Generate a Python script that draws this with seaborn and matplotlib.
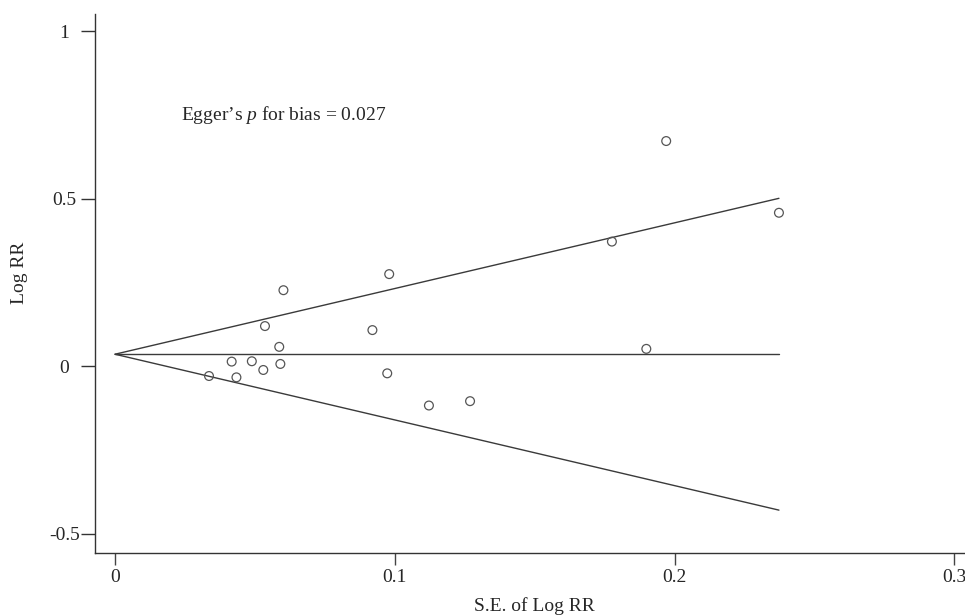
import matplotlib
matplotlib.use("Agg")
import matplotlib.pyplot as plt
import seaborn as sns
import numpy as np
import pandas as pd

# Study-level data
se_log_rr = [0.0336, 0.0417, 0.0434, 0.0489, 0.0530, 0.0536, 0.0587, 0.0591, 0.0602,
             0.0920, 0.0973, 0.0980, 0.1122, 0.1269, 0.1776, 0.1899, 0.1970, 0.2373]
log_rr = [-0.029, 0.014, -0.033, 0.015, -0.011, 0.120, 0.058, 0.007, 0.227,
          0.108, -0.021, 0.275, -0.117, -0.104, 0.372, 0.052, 0.672, 0.458]
pooled_log_rr = 0.036
z_crit = 1.96

x_ticks = [0, 0.1, 0.2, 0.3]
x_tick_labels = ["0", "0.1", "0.2", "0.3"]
y_ticks = [1, 0.5, 0, -0.5]
y_tick_labels = ["1", "0.5", "0", "-0.5"]
annotation = "Egger\u2019s $p$ for bias = 0.027"

df = pd.DataFrame({"se": se_log_rr, "logrr": log_rr})

sns.set_theme(style="white")
plt.rcParams["font.family"] = ["Liberation Serif", "DejaVu Serif"]
plt.rcParams["mathtext.fontset"] = "custom"
plt.rcParams["mathtext.it"] = "Liberation Serif:italic"
plt.rcParams["mathtext.rm"] = "Liberation Serif"

W, H = 965, 615
fig = plt.figure(figsize=(W / 100, H / 100), dpi=100)
ax = fig.add_axes([95 / W, 1 - 553 / H, 1 - 95 / W, (553 - 14) / H])

# Funnel lines: pooled estimate and pseudo 95% limits
se_max = max(se_log_rr)
funnel = pd.DataFrame({
    "se": [0, se_max, 0, se_max, 0, se_max],
    "y": [pooled_log_rr, pooled_log_rr,
          pooled_log_rr, pooled_log_rr + z_crit * se_max,
          pooled_log_rr, pooled_log_rr - z_crit * se_max],
    "line": ["mid", "mid", "up", "up", "low", "low"],
})
line_color = "#3a3a3a"
for name in ["mid", "up", "low"]:
    sub = funnel[funnel["line"] == name]
    sns.lineplot(data=sub, x="se", y="y", ax=ax, color=line_color,
                 linewidth=1.0, sort=False, estimator=None)

sns.scatterplot(data=df, x="se", y="logrr", ax=ax, s=40, marker="o",
                facecolors="none", edgecolor="#555555", linewidth=0.9, zorder=3)

ax.set_xlim(-0.00715, 0.3038)
ax.set_ylim(-0.557, 1.051)

ax.set_xticks(x_ticks)
ax.set_xticklabels(x_tick_labels, fontsize=14)
ax.set_yticks(y_ticks)
ax.set_yticklabels(y_tick_labels, fontsize=14)
ax.tick_params(axis="x", direction="out", length=8.6, width=1.0,
               color="#444444", pad=3, bottom=True)
ax.tick_params(axis="y", direction="out", length=10, width=1.0,
               color="#333333", pad=12.2, left=True)
for lab in ax.get_yticklabels():
    lab.set_horizontalalignment("center")

for side in ["top", "right"]:
    ax.spines[side].set_visible(False)
for side in ["left", "bottom"]:
    ax.spines[side].set_color("#333333")
    ax.spines[side].set_linewidth(1.0)

ax.set_xlabel("")
ax.set_ylabel("")
fig.text(534 / W, 1 - 606 / H, "S.E. of Log RR", fontsize=14, ha="center", va="center")
fig.text(20 / W, 1 - 273 / H, "Log RR", fontsize=14, ha="center", va="center", rotation=90)

fig.text(181 / W, 1 - 115 / H, annotation, fontsize=14, ha="left", va="center")

fig.savefig("out.png", dpi=100)
